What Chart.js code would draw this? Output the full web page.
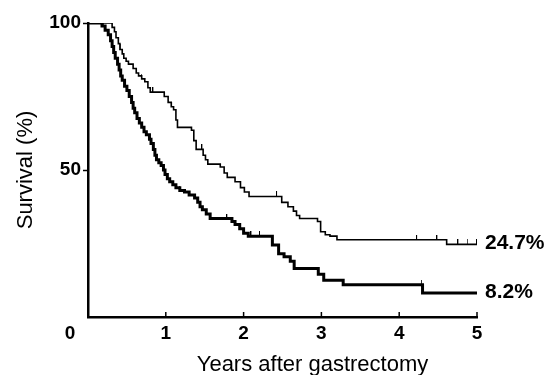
<!DOCTYPE html>
<html>
<head>
<meta charset="utf-8">
<script src="https://cdn.jsdelivr.net/npm/chart.js@4"></script>
<style>
  html, body { margin: 0; padding: 0; background: #fff; }
  #wrap { width: 547px; height: 375px; }
</style>
</head>
<body>
<div id="wrap"><canvas id="kmChart"></canvas></div>
<script>
// Kaplan-Meier curves (years, survival %)
const thinYears = [0, 0.31, 0.34, 0.36, 0.39, 0.41, 0.44, 0.46, 0.49, 0.52, 0.58, 0.62, 0.65, 0.69, 0.73, 0.77, 0.8, 0.98, 1.03, 1.07, 1.1, 1.13, 1.15, 1.33, 1.36, 1.39, 1.48, 1.51, 1.54, 1.7, 1.75, 1.79, 1.89, 1.96, 2.01, 2.07, 2.49, 2.57, 2.64, 2.68, 2.72, 2.95, 2.99, 3.05, 3.11, 3.2, 4.61, 5];
const thinSurvival = [100, 98.5, 97, 95, 93, 91, 89.5, 88, 87, 86, 84.5, 83, 82, 81, 80, 78, 76.5, 75, 73, 71.5, 70.5, 67, 64.5, 63.5, 60, 57, 55, 53.5, 52, 51, 49, 47.5, 46, 44, 42.5, 41, 39, 37.5, 36, 34.5, 33.5, 32.5, 29, 28, 27.5, 26.3, 24.7, 24.7];
const thickYears = [0, 0.18, 0.22, 0.26, 0.29, 0.31, 0.33, 0.35, 0.38, 0.4, 0.42, 0.44, 0.47, 0.5, 0.53, 0.56, 0.58, 0.6, 0.63, 0.66, 0.69, 0.72, 0.75, 0.79, 0.81, 0.84, 0.86, 0.88, 0.91, 0.94, 0.97, 0.99, 1.02, 1.05, 1.09, 1.13, 1.18, 1.24, 1.3, 1.37, 1.41, 1.44, 1.47, 1.52, 1.57, 1.85, 1.89, 1.95, 2.0, 2.06, 2.37, 2.45, 2.52, 2.6, 2.65, 2.96, 3.03, 3.28, 4.3, 5];
const thickSurvival = [100, 99, 97.5, 96, 94, 92, 90, 88, 86, 84, 82, 80.5, 78.5, 77, 75, 73, 71, 69.5, 67.5, 66, 64.5, 63, 62, 60.5, 59, 57, 55, 53.5, 52.5, 51.5, 50, 48.5, 47, 46, 45, 44, 43, 42.5, 41.5, 40.5, 39, 37.5, 36.5, 35, 33.5, 32.5, 31.5, 30, 28.5, 27.5, 24.5, 21.5, 20.5, 19, 16.5, 14.5, 12.5, 11, 8.2, 8.2];

// censored observations (tick marks on the curves)
const thinCensored = [0.1, 0.17, 0.24, 0.42, 0.69, 0.84, 1.08, 1.47, 2.43, 4.23, 4.49, 4.76, 4.88, 5.0];
const thickCensored = [0.12, 0.2, 0.26, 1.18, 1.41, 1.79, 2.1, 2.21, 4.29];

const xTicks = [0, 1, 2, 3, 4, 5];
const yTicks = [50, 100];
const endLabels = ['24.7%', '8.2%'];
const xTitle = 'Years after gastrectomy';

function toPoints(xs, ys) {
    return xs.map((x, i) => ({ x: x, y: ys[i] }));
}

// survival value at time t on a step curve
function stepValue(xs, ys, t) {
    let v = ys[0];
    for (let i = 0; i < xs.length; i++) {
        if (xs[i] <= t) v = ys[i];
    }
    return v;
}

function censorPoints(times, xs, ys) {
    return times.map(t => ({ x: t, y: stepValue(xs, ys, t) }));
}

// small upward tick used as the censor marker
function makeTick(w) {
    const c = document.createElement('canvas');
    c.width = 2;
    c.height = 10;
    const g = c.getContext('2d');
    g.fillStyle = '#000';
    g.fillRect(0, 0, w, 5);
    return c;
}
const censorMark = makeTick(1);

const FONT = "'Liberation Sans', Arial, Helvetica, sans-serif";

const extras = {
    id: 'extras',
    afterDraw(chart) {
        const ctx = chart.ctx;
        const xs = chart.scales.x;
        const ys = chart.scales.y;
        const area = chart.chartArea;
        ctx.save();
        // inward ticks on the x axis
        ctx.strokeStyle = '#000';
        ctx.lineWidth = 1.5;
        xTicks.slice(1).forEach(v => {
            const px = xs.getPixelForValue(v);
            ctx.beginPath();
            ctx.moveTo(px, area.bottom);
            ctx.lineTo(px, area.bottom - 5);
            ctx.stroke();
        });
        // shared "0" at the corner
        ctx.fillStyle = '#000';
        ctx.font = 'bold 19px ' + FONT;
        ctx.textAlign = 'center';
        ctx.textBaseline = 'middle';
        ctx.fillText('0', xs.getPixelForValue(0) - 18, area.bottom + 17);
        // x title, centred under plot plus end labels as in the original
        ctx.font = '22px ' + FONT;
        ctx.fillText(xTitle, (area.left + chart.width) / 2 - 5, area.bottom + 48);
        // end-of-curve percentages
        ctx.font = 'bold 21px ' + FONT;
        ctx.textAlign = 'left';
        const ends = [thinSurvival[thinSurvival.length - 1], thickSurvival[thickSurvival.length - 1]];
        ends.forEach((v, i) => {
            ctx.fillText(endLabels[i], area.right + 8, ys.getPixelForValue(v) - 1);
        });
        ctx.restore();
    }
};

const content = document.getElementById('kmChart').getContext('2d');
new Chart(content, {
    type: 'line',
    data: {
        datasets: [
            {
                label: 'thin',
                data: toPoints(thinYears, thinSurvival),
                stepped: true,
                borderColor: '#000',
                borderWidth: 1.6,
                pointRadius: 0,
                fill: false
            },
            {
                label: 'thick',
                data: toPoints(thickYears, thickSurvival),
                stepped: true,
                borderColor: '#000',
                borderWidth: 3,
                pointRadius: 0,
                fill: false
            },
            {
                label: 'thin censored',
                type: 'scatter',
                data: censorPoints(thinCensored, thinYears, thinSurvival),
                pointStyle: censorMark,
                showLine: false
            },
            {
                label: 'thick censored',
                type: 'scatter',
                data: censorPoints(thickCensored, thickYears, thickSurvival),
                pointStyle: censorMark,
                showLine: false
            }
        ]
    },
    options: {
        responsive: true,
        maintainAspectRatio: false,
        animation: false,
        layout: { padding: { left: 10, right: 70, top: 23, bottom: 0 } },
        plugins: {
            legend: { display: false },
            tooltip: { enabled: false }
        },
        scales: {
            x: {
                type: 'linear',
                min: 0,
                max: 5,
                afterFit(scale) { scale.height = 58; },
                afterBuildTicks(scale) { scale.ticks = xTicks.map(v => ({ value: v })); },
                border: { display: true, color: '#000', width: 2.5 },
                grid: { display: true, drawOnChartArea: false, drawTicks: false },
                ticks: {
                    padding: 5,
                    color: '#000',
                    font: { family: FONT, size: 19, weight: 'bold' },
                    callback: v => (v === 0 ? '' : String(v))
                },
                title: { display: false }
            },
            y: {
                type: 'linear',
                min: 0,
                max: 100,
                afterFit(scale) { scale.width = 78; },
                afterBuildTicks(scale) { scale.ticks = yTicks.map(v => ({ value: v })); },
                border: { display: true, color: '#000', width: 2.5 },
                grid: { display: true, drawOnChartArea: false, drawTicks: true, tickLength: 5, color: '#000', tickWidth: 1.5 },
                ticks: {
                    padding: 2,
                    color: '#000',
                    font: { family: FONT, size: 19, weight: 'bold' }
                },
                title: {
                    display: true,
                    text: 'Survival (%)',
                    color: '#000',
                    font: { family: FONT, size: 22, lineHeight: 1.1 },
                    padding: { top: 4, bottom: 0 }
                }
            }
        }
    },
    plugins: [extras]
});
</script>
</body>
</html>
